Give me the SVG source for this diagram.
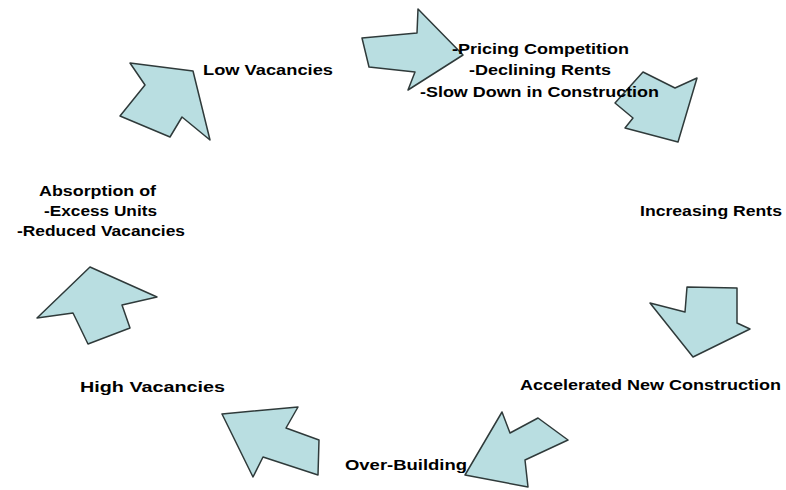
<svg xmlns="http://www.w3.org/2000/svg" width="786" height="490" viewBox="0 0 786 490">
<style>
.a{fill:#b9dee1;stroke:#2f3a3a;stroke-width:1.5;stroke-linejoin:round}
.t{font-family:"Liberation Sans",Arial,sans-serif;font-weight:bold;font-size:15.5px;fill:#000}
</style>
<rect width="786" height="490" fill="#fff"/>
<g id="connectors">
<polygon id="arrow1" class="a" points="362,38 417,33 418,9 463,55 408,90 415,72 369,67"/>
<polygon id="arrow2" class="a" points="643,72 675,88 697,78 678,142 625,128 633,118 615,103"/>
<polygon id="arrow3" class="a" points="687,287 737,288 737,323 750,329 693,357 650,303 685,312"/>
<polygon id="arrow4" class="a" points="502,412 510,433 538,418 568,440 525,460 528,487 465,475"/>
<polygon id="arrow5" class="a" points="222,414 298,407 286,428 319,440 318,475 263,457 253,477"/>
<polygon id="arrow6" class="a" points="90,267 157,297 122,305 130,328 88,344 73,313 37,318"/>
<polygon id="arrow7" class="a" points="193,71 210,140 182,117 170,137 120,116 145,85 130,63"/>
</g>
<g id="low-vacancies"><text class="t" x="203" y="75" textLength="130" lengthAdjust="spacingAndGlyphs">Low Vacancies</text></g>
<g id="pricing">
<text class="t" x="452" y="54" textLength="177" lengthAdjust="spacingAndGlyphs">-Pricing Competition</text>
<text class="t" x="469" y="75" textLength="142" lengthAdjust="spacingAndGlyphs">-Declining Rents</text>
<text class="t" x="420" y="97" textLength="239" lengthAdjust="spacingAndGlyphs">-Slow Down in Construction</text>
</g>
<g id="increasing-rents"><text class="t" x="640" y="216" textLength="142" lengthAdjust="spacingAndGlyphs">Increasing Rents</text></g>
<g id="accelerated"><text class="t" x="520" y="390" textLength="261" lengthAdjust="spacingAndGlyphs">Accelerated New Construction</text></g>
<g id="over-building"><text class="t" x="345" y="470" textLength="122" lengthAdjust="spacingAndGlyphs">Over-Building</text></g>
<g id="high-vacancies"><text class="t" x="80" y="392" textLength="145" lengthAdjust="spacingAndGlyphs">High Vacancies</text></g>
<g id="absorption">
<text class="t" x="39" y="196" textLength="117" lengthAdjust="spacingAndGlyphs">Absorption of</text>
<text class="t" x="44" y="216" textLength="113" lengthAdjust="spacingAndGlyphs">-Excess Units</text>
<text class="t" x="17" y="236" textLength="168" lengthAdjust="spacingAndGlyphs">-Reduced Vacancies</text>
</g>
</svg>
